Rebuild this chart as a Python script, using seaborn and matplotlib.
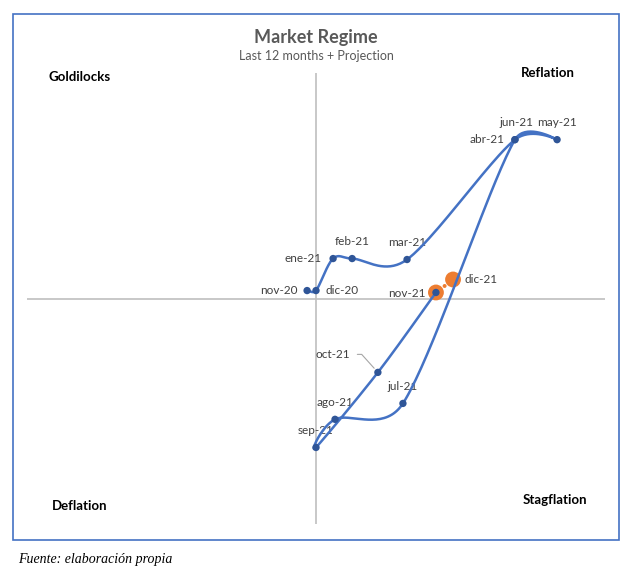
import numpy as np
import pandas as pd
import seaborn as sns
import matplotlib.pyplot as plt
from matplotlib.patches import Rectangle

# data (x / y coordinates of the regime chart)
months = ["nov-20", "dic-20", "ene-21", "feb-21", "mar-21", "abr-21", "may-21",
          "jun-21", "jul-21", "ago-21", "sep-21", "oct-21", "nov-21"]
x_vals = [-0.37, 0.0, 0.71, 1.50, 3.78, 8.26, 10.01, 8.26, 3.61, 0.79, 0.0, 2.57, 4.98]
y_vals = [0.33, 0.33, 1.66, 1.66, 1.62, 6.60, 6.60, 6.60, -4.36, -5.02, -6.19, -3.07, 0.25]

proj_labels = ["nov-21", "", "dic-21"]
proj_x = [4.98, 5.34, 5.69]
proj_y = [0.25, 0.52, 0.79]
proj_size = [130, 8, 130]

quadrants = ["Goldilocks", "Reflation", "Deflation", "Stagflation"]

# label placement (pixel offsets from the point, alignment)
label_pos = {
    "nov-20": (-9, 0, "right"), "dic-20": (10, 0, "left"), "ene-21": (-11, 0, "right"),
    "feb-21": (0, 17, "center"), "mar-21": (0, 17, "center"), "abr-21": (-10, 0, "right"),
    "may-21": (0, 17, "center"), "jun-21": (2, 17, "center"), "jul-21": (0, 17, "center"),
    "ago-21": (0, 17, "center"), "sep-21": (0, 17, "center"), "nov-21": (-10, -1, "right"),
}


def smooth(xs, ys, cap=0.5, n=40):
    # Catmull-Rom bezier (1/6 tangents), control arms capped by segment length
    p = np.column_stack([xs, ys]).astype(float)
    m = len(p)
    tang = np.array([(p[min(i + 1, m - 1)] - p[max(i - 1, 0)]) / 6 for i in range(m)])

    def arm(tv, L):
        nrm = np.hypot(*tv)
        if nrm > cap * L and nrm > 0:
            return tv * cap * L / nrm
        return tv

    out = []
    for i in range(m - 1):
        p1, p2 = p[i], p[i + 1]
        L = np.hypot(*(p2 - p1))
        c1 = p1 + arm(tang[i], L)
        c2 = p2 - arm(tang[i + 1], L)
        t = np.linspace(0, 1, n)[:, None]
        seg = ((1 - t) ** 3) * p1 + 3 * ((1 - t) ** 2) * t * c1 + 3 * (1 - t) * t ** 2 * c2 + t ** 3 * p2
        out.append(seg if i == 0 else seg[1:])
    return np.vstack(out)


sns.set_style("white")
plt.rcParams["font.family"] = ["Lato", "DejaVu Sans"]

fig = plt.figure(figsize=(6.36, 5.78), dpi=100)
ax = fig.add_axes([27 / 636, 54 / 578, 578 / 636, 451 / 578])
ax.set_xlim(-12, 12)
ax.set_ylim(-9.37, 9.37)
ax.axis("off")

ax.axhline(0, color="#BFBFBF", lw=1.2, zorder=1)
ax.axvline(0, color="#BFBFBF", lw=1.2, zorder=1)

curve = smooth(x_vals, y_vals)
curve_df = pd.DataFrame({"x": curve[:, 0], "y": curve[:, 1]})

df = pd.DataFrame({"month": months, "x": x_vals, "y": y_vals})
proj = pd.DataFrame({"label": proj_labels, "x": proj_x, "y": proj_y, "s": proj_size})

sns.scatterplot(data=proj, x="x", y="y", size="s", sizes=(8, 130), color="#ED7D31",
                edgecolor="none", legend=False, ax=ax, zorder=3)
sns.lineplot(data=curve_df, x="x", y="y", sort=False, color="#4472C4", lw=1.8,
             estimator=None, ax=ax, zorder=4)
sns.scatterplot(data=df, x="x", y="y", color="#2F5597", s=28, edgecolor="none",
                ax=ax, zorder=5)

lab_kw = dict(fontsize=8.5, color="#404040", va="center", textcoords="offset pixels")
for m, xv, yv in zip(months, x_vals, y_vals):
    if m in label_pos:
        dx, dy, ha = label_pos[m]
        ax.annotate(m, (xv, yv), xytext=(dx, dy), ha=ha, **lab_kw)

# oct-21 with leader line
ax.annotate("oct-21", (x_vals[11], y_vals[11]), xytext=(-28, 18), ha="right",
            arrowprops=dict(arrowstyle="-", color="#A6A6A6", lw=0.8,
                            connectionstyle="angle,angleA=0,angleB=132,rad=0",
                            shrinkA=3, shrinkB=4), **lab_kw)
ax.annotate("dic-21", (proj_x[2], proj_y[2]), xytext=(11, 0), ha="left", **lab_kw)

# title and quadrant names
fig.text(316 / 636, 1 - 37 / 578, "Market Regime", ha="center", va="center",
         fontsize=13, fontweight="bold", color="#595959")
fig.text(316 / 636, 1 - 56 / 578, "Last 12 months + Projection", ha="center", va="center",
         fontsize=9, color="#595959")
qpos = [(80, 77), (548, 73), (80, 506), (555, 500)]
for q, (px, py) in zip(quadrants, qpos):
    fig.text(px / 636, 1 - py / 578, q, ha="center", va="center", fontsize=9.5,
             fontweight="bold", color="black")

fig.patches.append(Rectangle((13 / 636, 1 - 540 / 578), 606 / 636, 526 / 578,
                             transform=fig.transFigure, fill=False,
                             edgecolor="#4472C4", lw=1.2))
fig.text(18 / 636, 1 - 559 / 578, "Fuente: elaboración propia", ha="left", va="center",
         fontsize=10, style="italic", family="Liberation Serif", color="black")

fig.savefig("out.png", dpi=100)
